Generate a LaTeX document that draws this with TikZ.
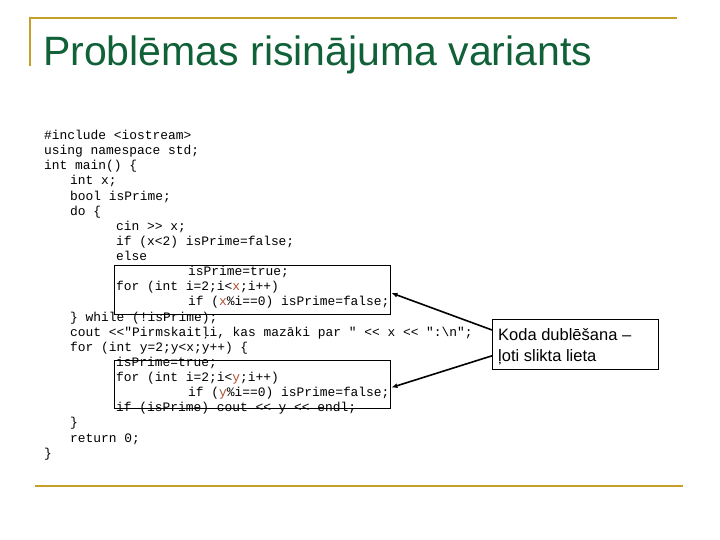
\documentclass[tikz,border=0pt]{standalone}
\usepackage{fontspec}
\setmainfont{Liberation Sans}
\setmonofont{Liberation Mono}
\usetikzlibrary{arrows.meta}
\definecolor{gold}{RGB}{196,160,40}
\definecolor{titlegreen}{RGB}{16,96,56}
\definecolor{hl}{RGB}{176,80,48}
\begin{document}
\begin{tikzpicture}[x=1pt,y=-1pt,
  code/.style={anchor=base west,inner sep=0pt,font=\fontsize{12.9}{15}\ttfamily},
  codebox/.style={draw,line width=0.8pt,minimum width=276pt,inner sep=0pt},
  arr/.style={line width=1.6pt,-{Latex[length=6pt,width=5pt]}}]
\useasboundingbox (0,0) rectangle (720,540);
\draw[gold,line width=2.5pt] (30,18) -- (677,18);
\draw[gold,line width=2.5pt] (30,17) -- (30,66);
\draw[gold,line width=2pt] (35,486) -- (683,486);
\node[anchor=base west,inner sep=0pt,text=titlegreen,font=\fontsize{41}{45}\selectfont] (title) at (43,66) {Problēmas risinājuma variants};
\def\by#1{139.5+15.13*#1}
\node[code] (l0) at (44,{\by{0}}) {\#include <iostream>};
\node[code] (l1) at (44,{\by{1}}) {using namespace std;};
\node[code] (l2) at (44,{\by{2}}) {int main() \{};
\node[code] (l3) at (70,{\by{3}}) {int x;};
\node[code] (l4) at (70,{\by{4}}) {bool isPrime;};
\node[code] (l5) at (70,{\by{5}}) {do \{};
\node[code] (l6) at (116,{\by{6}}) {cin >> x;};
\node[code] (l7) at (116,{\by{7}}) {if (x<2) isPrime=false;};
\node[code] (l8) at (116,{\by{8}}) {else};
\node[code] (l9) at (188,{\by{9}}) {isPrime=true;};
\node[code] (l10) at (116,{\by{10}}) {for (int i=2;i<\textcolor{hl}{x};i++)};
\node[code] (l11) at (188,{\by{11}}) {if (\textcolor{hl}{x}\%i==0) isPrime=false;};
\node[code] (l12) at (70,{\by{12}}) {\} while (!isPrime);};
\node[code] (l13) at (70,{\by{13}}) {cout <<"Pirmskaitļi, kas mazāki par " << x << ":\textbackslash n";};
\node[code] (l14) at (70,{\by{14}}) {for (int y=2;y<x;y++) \{};
\node[code] (l15) at (116,{\by{15}}) {isPrime=true;};
\node[code] (l16) at (116,{\by{16}}) {for (int i=2;i<\textcolor{hl}{y};i++)};
\node[code] (l17) at (188,{\by{17}}) {if (\textcolor{hl}{y}\%i==0) isPrime=false;};
\node[code] (l18) at (116,{\by{18}}) {if (isPrime) cout << y << endl;};
\node[code] (l19) at (70,{\by{19}}) {\}};
\node[code] (l20) at (70,{\by{20}}) {return 0;};
\node[code] (l21) at (44,{\by{21}}) {\}};
\node[codebox,minimum height=48.5pt] (box1) at (252,290) {};
\node[codebox,minimum height=47.5pt] (box2) at (252,384.5) {};
\node[draw,line width=0.8pt,anchor=north west,minimum width=166pt,minimum height=50pt,inner sep=0pt] (call) at (492,319) {};
\node[anchor=base west,inner sep=0pt,font=\fontsize{16.5}{20}\selectfont] (ctext) at (498,340) {Koda dublēšana –};
\node[anchor=base west,inner sep=0pt,font=\fontsize{16.5}{20}\selectfont] (ctext2) at (498,361) {ļoti slikta lieta};
\coordinate (c1) at ([yshift=-11pt]call.north west);
\coordinate (c2) at ([yshift=14pt]call.south west);
\draw[arr] (c1) -- ([xshift=1pt,yshift=-3pt]box1.east);
\draw[arr] (c2) -- ([xshift=1pt,yshift=-3pt]box2.east);
\end{tikzpicture}
\end{document}
